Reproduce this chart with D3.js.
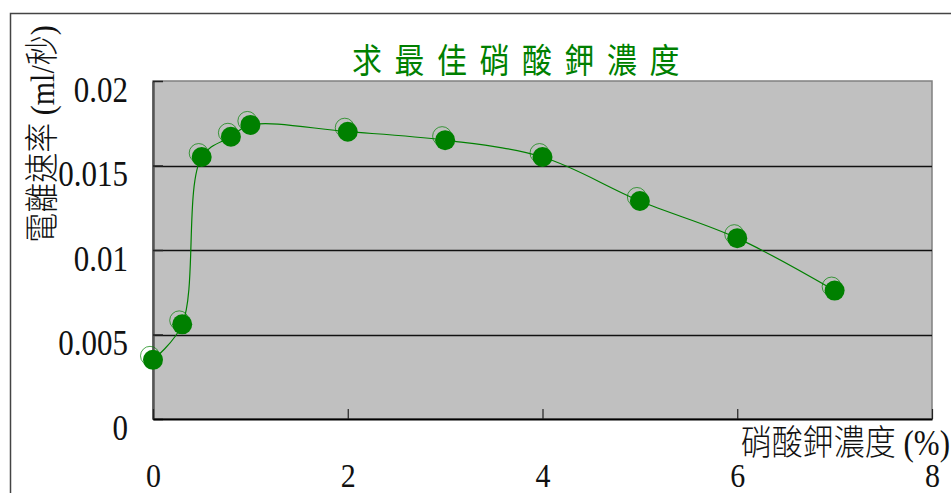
<!DOCTYPE html>
<html>
<head>
<meta charset="utf-8">
<script src="https://cdn.jsdelivr.net/npm/d3@7"></script>
<style>
  html, body { margin: 0; padding: 0; background: #fff; }
  svg { display: block; }
</style>
</head>
<body>
<svg id="chart" width="951" height="493"></svg>
<script>
// Potassium nitrate concentration (%) vs. ionisation rate (ml/s)
const concentrations = [0, 0.3, 0.5, 0.8, 1, 2, 3, 4, 5, 6, 7];
const rates = [0.0035, 0.0056, 0.0155, 0.0167, 0.0174, 0.0170, 0.0165, 0.0155, 0.0129, 0.0107, 0.0076];
const xTicks = [0, 2, 4, 6, 8];
const yTicks = [0, 0.005, 0.01, 0.015, 0.02];
const yTickLabels = ["0", "0.005", "0.01", "0.015", "0.02"];
const titleText = "求最佳硝酸鉀濃度";
const xTitle = "硝酸鉀濃度 (%)";
const yTitle = "電離速率 (ml/秒)";

const svg = d3.select("#chart");
const W = 951, H = 493;
const plot = { left: 153, right: 932, top: 81, bottom: 419 };
const serif = "'Liberation Serif', 'Times New Roman', 'Noto Sans CJK TC', serif";
const green = "#008000";
const stretch = 1.15; // text is drawn slightly tall and narrow

const x = d3.scaleLinear().domain([0, 8]).range([plot.left, plot.right]);
const y = d3.scaleLinear().domain([0, 0.02]).range([plot.bottom, plot.top]);

// outer frame (top and left edges)
svg.append("path")
  .attr("d", `M10.5,${H} V13.5 H${W}`)
  .attr("fill", "none").attr("stroke", "#444").attr("stroke-width", 1.5);

// plot background
svg.append("rect")
  .attr("x", plot.left).attr("y", plot.top)
  .attr("width", plot.right - plot.left).attr("height", plot.bottom - plot.top)
  .attr("fill", "#c0c0c0")
  .attr("stroke", "#808080").attr("stroke-width", 1.5);

// horizontal gridlines
svg.append("g").selectAll("line")
  .data(yTicks.filter(d => d > 0 && d < 0.02))
  .join("line")
  .attr("x1", plot.left).attr("x2", plot.right)
  .attr("y1", d => Math.round(y(d)) + 0.5).attr("y2", d => Math.round(y(d)) + 0.5)
  .attr("stroke", "#111").attr("stroke-width", 1.3);

// y axis with inward ticks
const yAxis = svg.append("g")
  .attr("transform", `translate(${plot.left},0)`)
  .call(d3.axisLeft(y).tickValues(yTicks).tickSizeInner(-10).tickSizeOuter(0)
    .tickFormat((d, i) => yTickLabels[i]));
yAxis.select(".domain").attr("stroke", "#555").attr("stroke-width", 2.5);
yAxis.selectAll(".tick line").attr("stroke", "#222").attr("stroke-width", 1.5);
yAxis.selectAll(".tick text")
  .attr("x", -25).attr("y", 20 / stretch).attr("dy", 0)
  .attr("transform", `scale(1,${stretch})`)
  .attr("font-family", serif).attr("font-size", 31).attr("fill", "#111");

// x axis with inward ticks
const xAxis = svg.append("g")
  .attr("transform", `translate(0,${plot.bottom})`)
  .call(d3.axisBottom(x).tickValues(xTicks).tickSizeInner(-10).tickSizeOuter(0)
    .tickFormat(d3.format("d")));
xAxis.select(".domain").attr("stroke", "#000").attr("stroke-width", 1.8);
xAxis.selectAll(".tick line").attr("stroke", "#222").attr("stroke-width", 1.2);
xAxis.selectAll(".tick text")
  .attr("y", 68 / stretch).attr("dy", 0)
  .attr("transform", `scale(1,${stretch})`)
  .attr("font-family", serif).attr("font-size", 30).attr("fill", "#111");

// smoothed series line
const pts = concentrations.map((c, i) => [x(c), y(rates[i])]);
svg.append("path")
  .attr("d", d3.line().curve(d3.curveCatmullRom.alpha(0.5))(pts))
  .attr("fill", "none").attr("stroke", green).attr("stroke-width", 1.2);

// markers: shadow outline behind a filled dot
const marks = svg.append("g");
marks.selectAll("circle.ghost")
  .data(pts).join("circle").attr("class", "ghost")
  .attr("cx", d => d[0] - 3).attr("cy", d => d[1] - 4).attr("r", 9.5)
  .attr("fill", "none").attr("stroke", green).attr("stroke-opacity", 0.7).attr("stroke-width", 1);
marks.selectAll("circle.dot")
  .data(pts).join("circle").attr("class", "dot")
  .attr("cx", d => d[0]).attr("cy", d => d[1]).attr("r", 10)
  .attr("fill", green);

// title
svg.append("text")
  .attr("transform", `translate(522,73) scale(1,${stretch})`)
  .attr("text-anchor", "middle")
  .attr("font-family", "'Noto Sans CJK TC', sans-serif")
  .attr("font-size", 30).attr("letter-spacing", 12.5)
  .attr("fill", green)
  .text(titleText);

// axis titles
svg.append("text")
  .attr("transform", `translate(950,455) scale(1,${stretch})`)
  .attr("text-anchor", "end")
  .attr("font-family", serif).attr("font-size", 31).attr("font-weight", 300).attr("fill", "#111")
  .text(xTitle);

svg.append("text")
  .attr("transform", `translate(54,134) scale(${stretch},1) rotate(-90)`)
  .attr("text-anchor", "middle")
  .attr("font-family", serif).attr("font-size", 30).attr("font-weight", 300).attr("fill", "#111")
  .text(yTitle);
</script>
</body>
</html>
